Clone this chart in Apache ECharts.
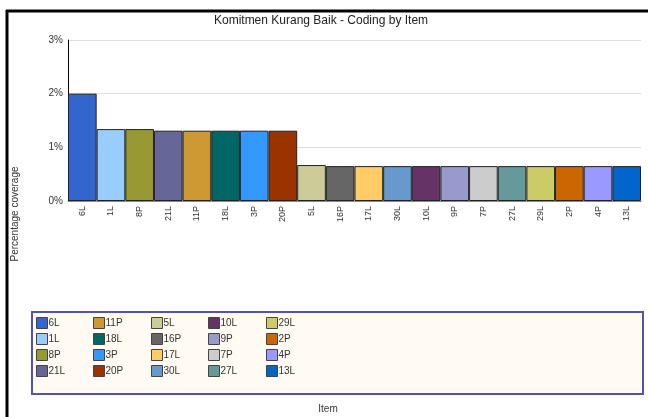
<!DOCTYPE html>
<html>
<head>
<meta charset="utf-8">
<script src="https://cdn.jsdelivr.net/npm/echarts@6/dist/echarts.min.js"></script>
<style>
  html, body { margin: 0; padding: 0; background: #fff; }
  #chart { width: 648px; height: 417px; }
</style>
</head>
<body>
<div id="chart"></div>
<script>
const items = ['6L', '1L', '8P', '21L', '11P', '18L', '3P', '20P', '5L', '16P',
    '17L', '30L', '10L', '9P', '7P', '27L', '29L', '2P', '4P', '13L'];
const coverage = [2.0, 1.34, 1.34, 1.31, 1.31, 1.31, 1.31, 1.31, 0.67, 0.65,
    0.65, 0.65, 0.65, 0.65, 0.65, 0.65, 0.65, 0.65, 0.65, 0.65];
const colors = ['#3366CC', '#99CCFF', '#999933', '#666699', '#CC9933', '#006666', '#3399FF', '#993300', '#CCCC99', '#666666',
    '#FFCC66', '#6699CC', '#663366', '#9999CC', '#CCCCCC', '#669999', '#CCCC66', '#CC6600', '#9999FF', '#0066CC'];
const yTicks = [0, 1, 2, 3];

const font = 'Arial, "Liberation Sans", sans-serif';

// one series per item so the legend can list them
const series = items.map(function (name, i) {
    return {
        name: name,
        type: 'bar',
        stack: 'all',
        barWidth: '100%',
        color: colors[i],
        itemStyle: { color: colors[i], borderColor: '#222', borderWidth: 1 },
        data: items.map(function (_, j) { return j === i ? coverage[i] : '-'; })
    };
});

// legend is laid out in columns of four
const legendCols = [36, 93, 151, 208, 266];
const legends = legendCols.map(function (x, c) {
    return {
        orient: 'vertical',
        left: x,
        top: 317,
        padding: 0,
        itemWidth: 11,
        itemHeight: 11,
        itemGap: 4,
        icon: 'rect',
        selectedMode: false,
        itemStyle: { borderColor: '#444', borderWidth: 1 },
        textStyle: { fontFamily: font, fontSize: 10, color: '#333', padding: [0, 0, 0, -4] },
        data: items.slice(c * 4, c * 4 + 4)
    };
});

const chart = echarts.init(document.getElementById('chart'));
chart.setOption({
    animation: false,
    backgroundColor: '#fff',
    title: {
        text: 'Komitmen Kurang Baik - Coding by Item',
        left: 316,
        textAlign: 'center',
        top: 10,
        textStyle: { fontFamily: font, fontSize: 12, fontWeight: 'normal', color: '#222' }
    },
    legend: legends,
    grid: { left: 68, right: 7, top: 40, bottom: 216 },
    xAxis: {
        type: 'category',
        data: items,
        axisTick: { show: false },
        axisLine: { lineStyle: { color: '#888' } },
        axisLabel: { rotate: 90, interval: 0, fontFamily: font, fontSize: 9, color: '#333', margin: 5 }
    },
    yAxis: {
        type: 'value',
        min: yTicks[0],
        max: yTicks[yTicks.length - 1],
        interval: 1,
        axisLine: { show: true, lineStyle: { color: '#000' } },
        axisTick: { show: false },
        axisLabel: { formatter: '{value}%', fontFamily: font, fontSize: 10, color: '#333', margin: 5 },
        splitLine: { lineStyle: { color: '#DDD', width: 1 } }
    },
    series: series,
    graphic: [
        { type: 'line', z: 10, shape: { x1: 6, y1: 11, x2: 648, y2: 11 }, style: { stroke: '#000', lineWidth: 3 } },
        { type: 'line', z: 10, shape: { x1: 7, y1: 10, x2: 7, y2: 417 }, style: { stroke: '#000', lineWidth: 3 } },
        { type: 'rect', z: 0, shape: { x: 32, y: 312, width: 611, height: 82 }, style: { fill: '#FFFBF3', stroke: '#5252B0', lineWidth: 2 } },
        { type: 'text', z: 10, x: 328, y: 404, style: { text: 'Item', fontFamily: font, fontSize: 10, fill: '#333', align: 'center' } },
        { type: 'text', z: 10, x: 15, y: 214, rotation: Math.PI / 2,
          style: { text: 'Percentage coverage', fontFamily: font, fontSize: 10, fill: '#333', align: 'center', verticalAlign: 'middle' } }
    ]
});
</script>
</body>
</html>
